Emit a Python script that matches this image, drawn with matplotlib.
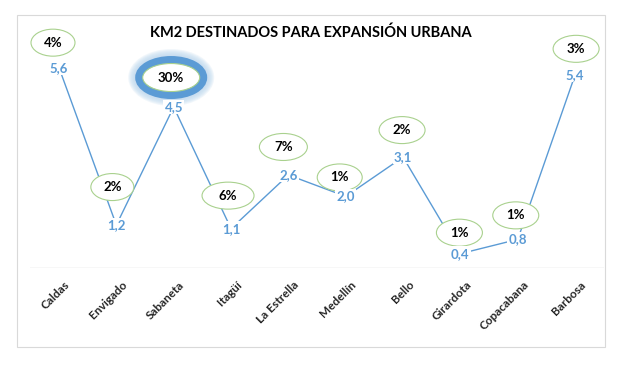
import matplotlib
matplotlib.use("Agg")
import matplotlib.pyplot as plt
from matplotlib.patches import Ellipse, Rectangle
from matplotlib.transforms import IdentityTransform, ScaledTranslation

plt.rcParams["font.family"] = ["Lato", "DejaVu Sans"]

municipios = ["Caldas", "Envigado", "Sabaneta", "Itagüí", "La Estrella",
              "Medellín", "Bello", "Girardota", "Copacabana", "Barbosa"]
km2 = [5.6, 1.2, 4.5, 1.1, 2.6, 2.0, 3.1, 0.4, 0.8, 5.4]
porcentaje = ["4%", "2%", "30%", "6%", "7%", "1%", "2%", "1%", "1%", "3%"]
destacado = "Sabaneta"

# callout placement in pixels relative to the point, and callout widths
off_x = [-6, -4, -2.5, -3, -5, -6, -1, -1, -2, 1]
off_y = [25, 38, 29.5, 33, 28, 19, 27, 21, 24, 26]
ancho = [44, 43, 57, 52, 48, 45, 46, 46, 46, 46]
alto = 27

BLUE = "#5B9BD5"
GREEN = "#A9D18E"
GRID = "#D9D9D9"

fig = plt.figure(figsize=(6.24, 3.65), dpi=100)
fig.patches.append(Rectangle((17 / 624, 18 / 365), 588 / 624, 332 / 365,
                             transform=fig.transFigure, fill=False,
                             ec=GRID, lw=0.8))
ax = fig.add_axes([0.0486, 0.2658, 0.919, 0.686])
xs = list(range(len(municipios)))
ax.plot(xs, km2, color=BLUE, lw=1.0, zorder=2)
ax.set_xlim(-0.5, len(municipios) - 0.5)
ax.set_ylim(0, 7)
ax.axhline(0, color=GRID, lw=1.0, zorder=1)
for s in ax.spines.values():
    s.set_visible(False)
ax.set_yticks([])
ax.set_xticks(xs, municipios, rotation=45, ha="right", va="top",
              rotation_mode="anchor", fontweight="bold", fontsize=8.5,
              color="#262626")
ax.tick_params(axis="x", length=0, pad=8)
shift = ScaledTranslation(5 / 100, 0, fig.dpi_scale_trans)
for lbl in ax.get_xticklabels():
    lbl.set_transform(lbl.get_transform() + shift)

ident = IdentityTransform()
for i, (v, p, name) in enumerate(zip(km2, porcentaje, municipios)):
    px, py = ax.transData.transform((i, v))
    cx, cy = px + off_x[i], py + off_y[i]
    w = ancho[i]
    if name == destacado:
        for k in range(7, 0, -1):
            ax.add_patch(Ellipse((cx, cy), 72 + 2 * k, 43 + 2 * k,
                                 transform=ident, fc="#BDD7EE",
                                 ec="none", alpha=0.2, clip_on=False,
                                 zorder=3))
        ax.add_patch(Ellipse((cx, cy), w + 7.5, alto + 1 + 7.5,
                             transform=ident, fc="white", ec=BLUE,
                             lw=5.4, clip_on=False, zorder=3))
        ax.add_patch(Ellipse((cx, cy), w, alto + 1, transform=ident,
                             fc="none", ec=GREEN, lw=0.8, clip_on=False,
                             zorder=3))
    else:
        ax.add_patch(Ellipse((cx, cy), w, alto, transform=ident,
                             fc="white", ec=GREEN, lw=0.8, clip_on=False,
                             zorder=3))
    ax.annotate(p, (i, v), xytext=(off_x[i], off_y[i]),
                textcoords="offset pixels", ha="center", va="center",
                fontsize=9.5, fontweight="bold", color="black", zorder=4)
    ax.annotate(f"{v:.1f}".replace(".", ","), (i, v), ha="center",
                va="center", fontsize=9.5, fontweight="bold", color=BLUE,
                zorder=5, annotation_clip=False,
                bbox=dict(boxstyle="square,pad=0.1", fc="white", ec="none"))

fig.text(311 / 624, 1 - 33 / 365, "KM2 DESTINADOS PARA EXPANSIÓN URBANA",
         ha="center", va="center", fontsize=10.5, fontweight="bold")

fig.savefig("out.png", dpi=100)
